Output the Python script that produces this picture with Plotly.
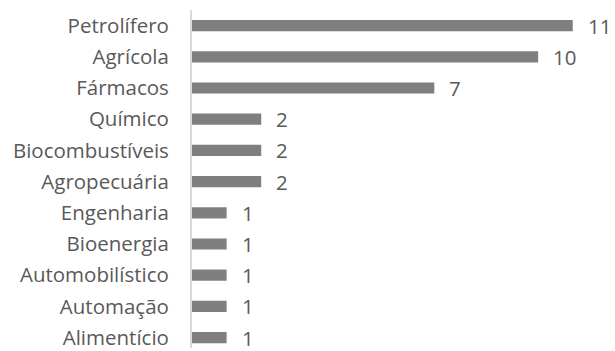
import plotly.graph_objects as go

# Sectors listed bottom to top, with their counts
setores = ["Alimentício", "Automação", "Automobilístico", "Bioenergia", "Engenharia",
           "Agropecuária", "Biocombustíveis", "Químico", "Fármacos", "Agrícola", "Petrolífero"]
valores = [1, 1, 1, 1, 1, 2, 2, 2, 7, 10, 11]

FONT = "Open Sans"
TEXT_COLOR = "#595959"

fig = go.Figure(go.Bar(
    y=setores,
    x=valores,
    orientation="h",
    marker=dict(color="#7f7f7f", line=dict(width=0)),
    width=0.36,
    hoverinfo="skip",
))

# Value labels to the right of each bar
for s, v in zip(setores, valores):
    fig.add_annotation(
        x=v, y=s, text=str(v), showarrow=False,
        xanchor="left", yanchor="middle", xshift=13,
        font=dict(family=FONT, size=20.5, color=TEXT_COLOR),
    )

fig.update_layout(
    width=615, height=351,
    margin=dict(l=192, r=0, t=10, b=0),
    paper_bgcolor="white", plot_bgcolor="white",
    showlegend=False,
    xaxis=dict(range=[0, 12.22], visible=False, fixedrange=True),
    yaxis=dict(
        type="category",
        range=[-0.333, 10.5],
        showline=True, linecolor="#d9d9d9", linewidth=2,
        showgrid=False, zeroline=False,
        ticks="", ticklabelstandoff=17,
        tickfont=dict(family=FONT, size=20.5, color=TEXT_COLOR),
        fixedrange=True,
    ),
)

fig.write_html("out.html")
